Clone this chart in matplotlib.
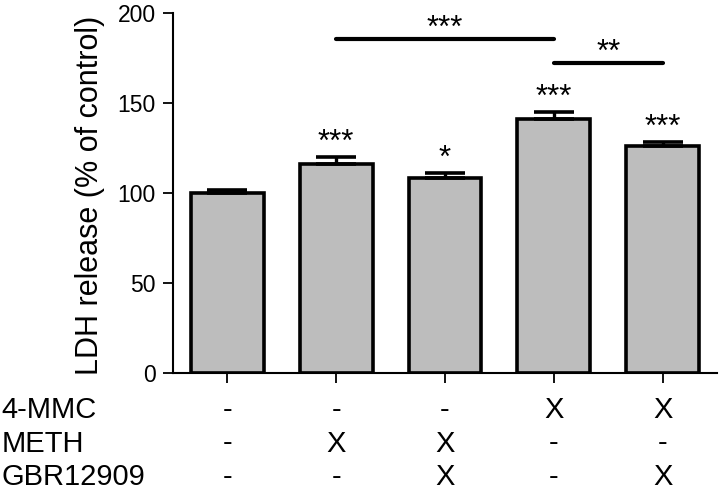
import numpy as np
import matplotlib
matplotlib.use("Agg")
import matplotlib.pyplot as plt
import matplotlib.transforms as mtransforms

plt.rcParams['font.family'] = ['Liberation Sans', 'DejaVu Sans']

# data
means = [100, 116, 108, 141, 126]
errs = [1.7, 4, 3, 4, 2.3]
stars = ['', '***', '*', '***', '***']

row_names = ['4-MMC', 'METH', 'GBR12909']
row_marks = [['-', '-', '-', 'X', 'X'],
             ['-', 'X', 'X', '-', '-'],
             ['-', '-', 'X', '-', 'X']]

# pairwise comparisons: (from bar, to bar, line height, label)
comparisons = [(1, 3, 185.6, '***'),
               (3, 4, 172.3, '**')]

yticks = [0, 50, 100, 150, 200]


def main():
    fig = plt.figure(figsize=(7.2, 4.92), dpi=100)
    ax = fig.add_axes([0.2403, 0.2419, 0.7556, 0.7323])

    x = np.arange(len(means))
    ax.bar(x, means, width=0.67, color='#bdbdbd', edgecolor='black',
           linewidth=2.6, zorder=2)
    ax.errorbar(x, means, yerr=[np.zeros(len(errs)), errs], fmt='none',
                ecolor='black', elinewidth=2.4, capsize=14.5, capthick=2.6,
                zorder=3)

    for xi, m, e, s in zip(x, means, errs, stars):
        if s:
            ax.text(xi, m + e + 3.5, s, ha='center', va='baseline',
                    fontsize=22.5)

    for a, b, h, s in comparisons:
        ax.plot([a, b], [h, h], color='black', lw=3, solid_capstyle='round',
                clip_on=False)
        ax.text((a + b) / 2, h + 1, s, ha='center', va='baseline',
                fontsize=22.5)

    ax.set_xlim(-0.5, 4.5)
    ax.set_ylim(0, 200)
    ax.set_yticks(yticks)
    ax.set_xticks(x)
    ax.set_xticklabels([])
    for side in ['top', 'right']:
        ax.spines[side].set_visible(False)
    for side in ['left', 'bottom']:
        ax.spines[side].set_linewidth(1.5)
    ax.tick_params(axis='both', length=7.5, width=1.3, labelsize=16.5,
                   direction='out', pad=5)

    fig.text(90 / 720, 1 - 195 / 492, 'LDH release (% of control)',
             rotation=90, ha='center', va='center', fontsize=22)

    # treatment table under the bars
    trans = mtransforms.blended_transform_factory(ax.transData, fig.transFigure)
    baselines = [1 - 418 / 492, 1 - 451.5 / 492, 1 - 485 / 492]
    for name, marks, yb in zip(row_names, row_marks, baselines):
        fig.text(0.002, yb, name, ha='left', va='baseline', fontsize=21)
        for xi, mk in zip(x, marks):
            ax.text(xi, yb, mk, transform=trans, ha='center', va='baseline',
                    fontsize=21)

    fig.savefig('out.png', dpi=100)


if __name__ == '__main__':
    main()
